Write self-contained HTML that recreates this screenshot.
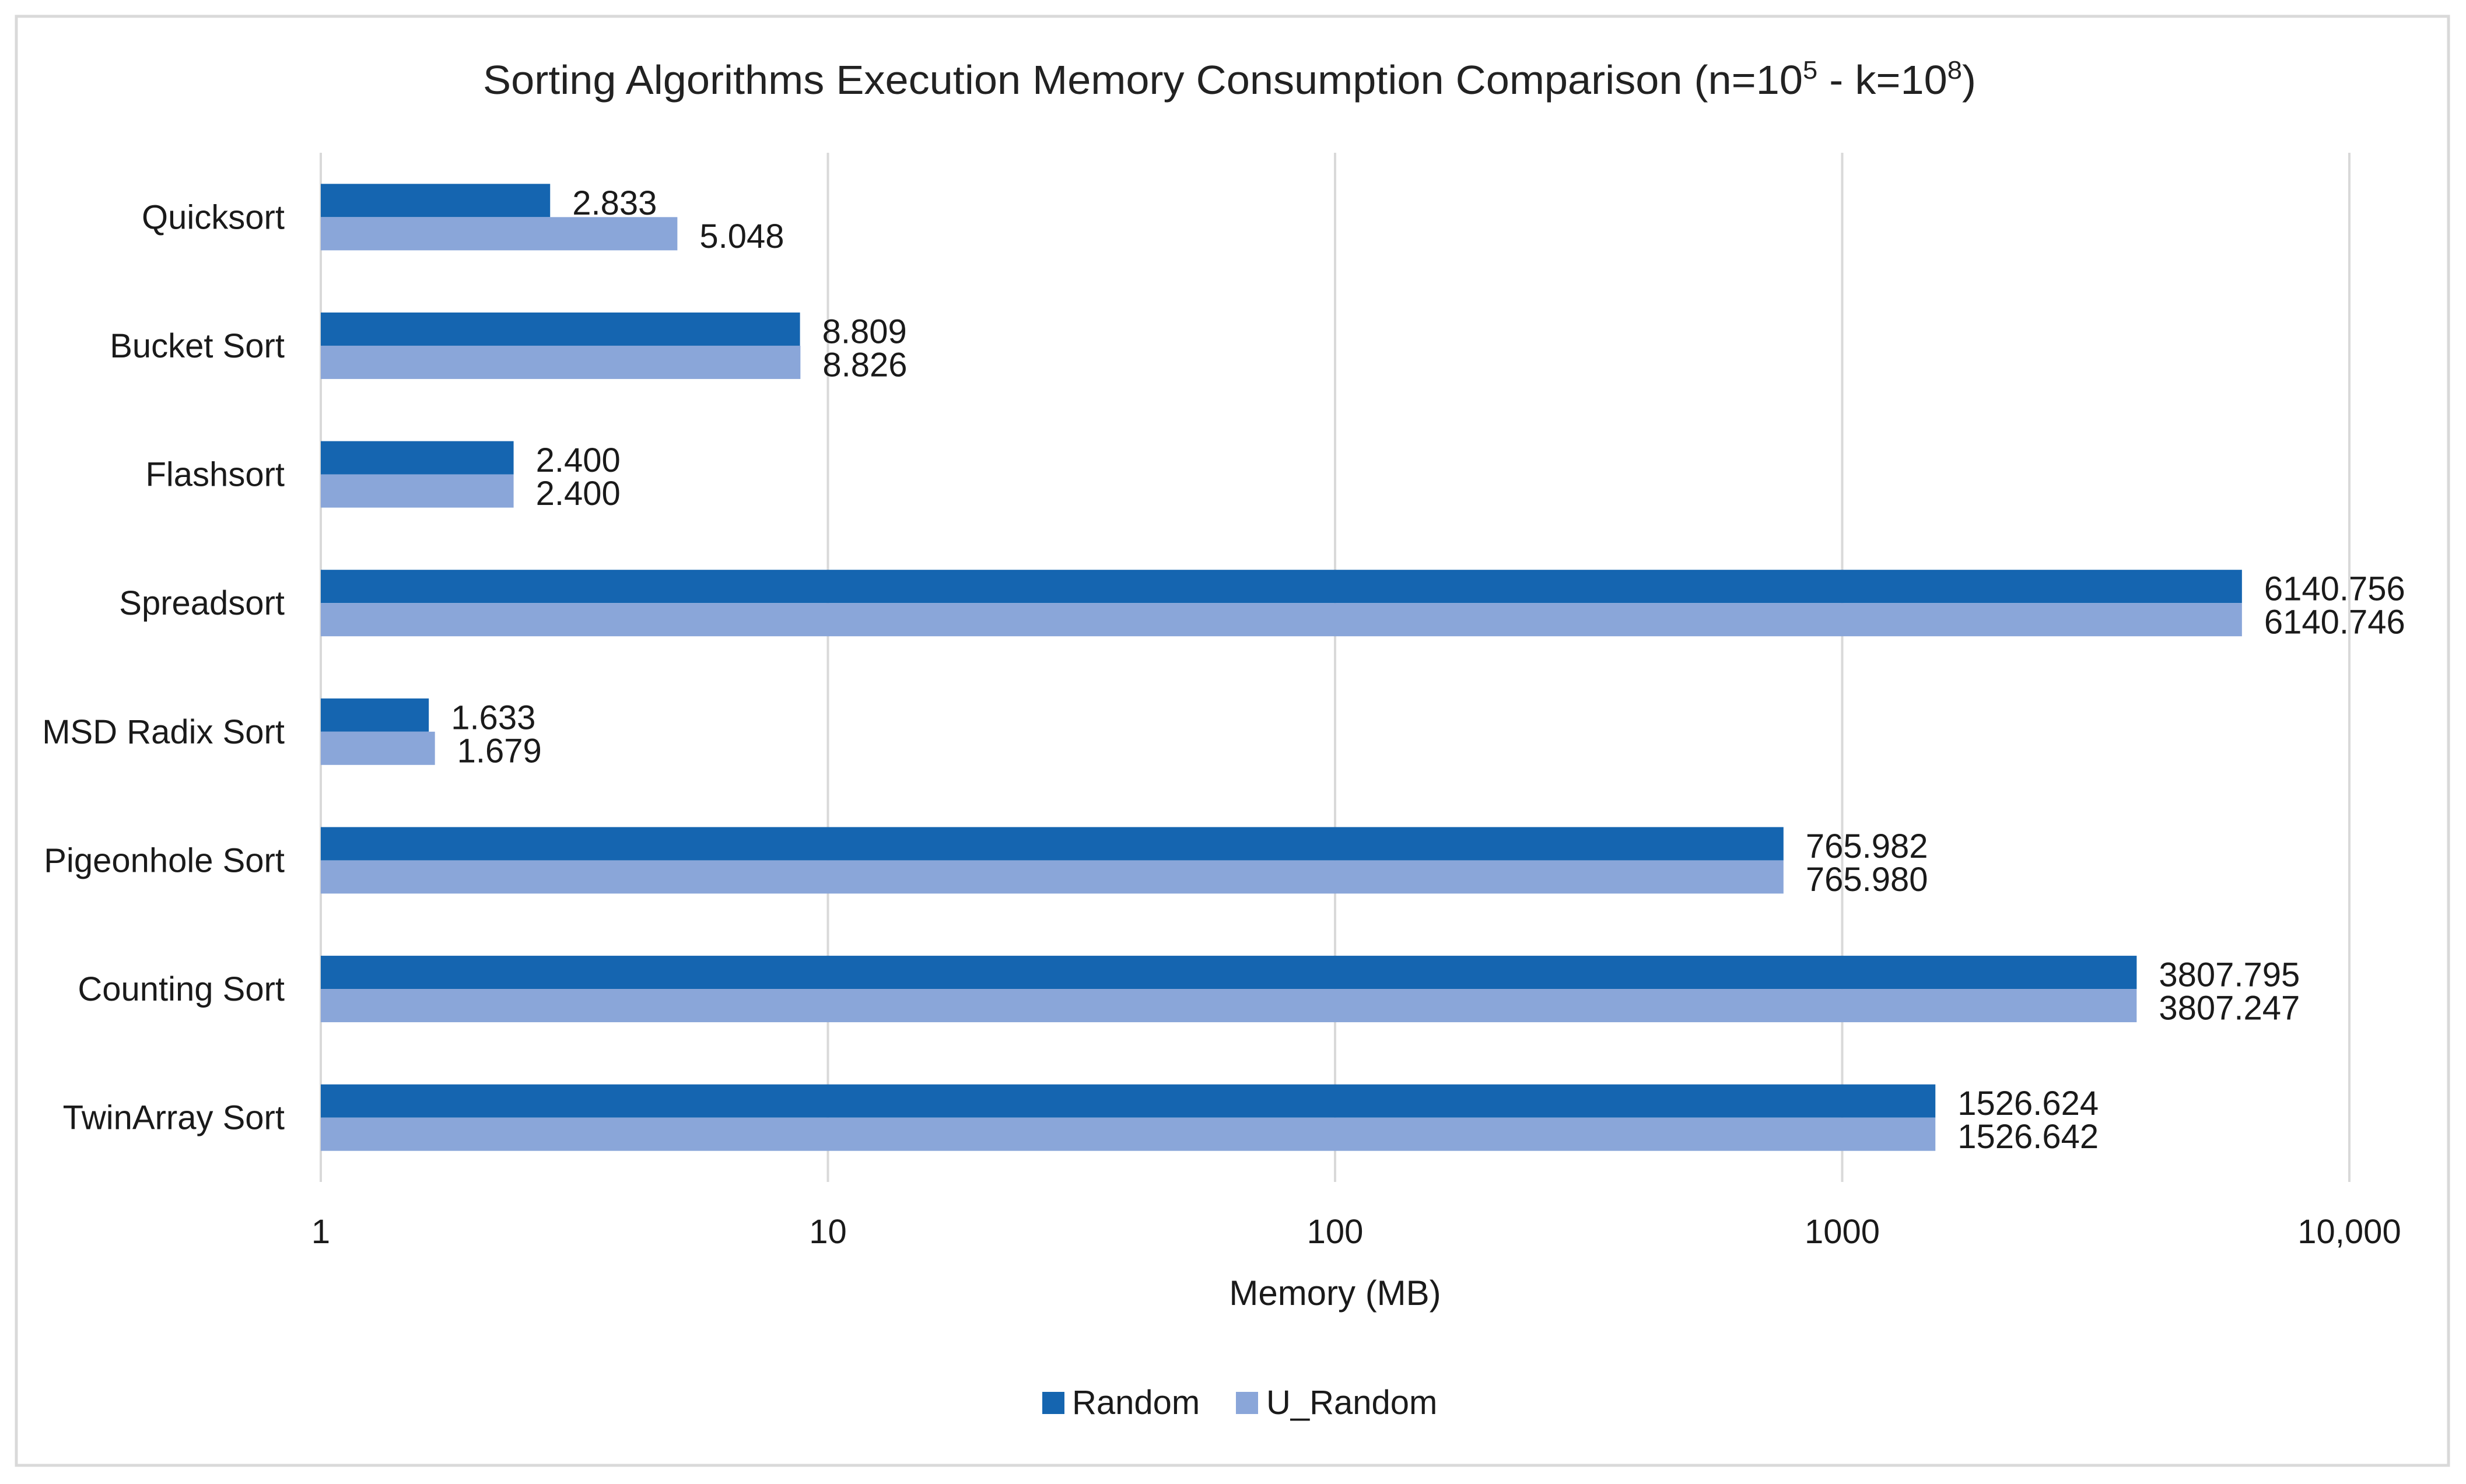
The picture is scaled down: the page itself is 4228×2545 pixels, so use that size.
<!DOCTYPE html>
<html><head><meta charset="utf-8"><style>
html,body{margin:0;padding:0;background:#fff}
svg{display:block;font-family:"Liberation Sans",sans-serif}
</style></head><body>
<svg id="chart" width="4228" height="2545" viewBox="0 0 4228 2545">
<rect x="28" y="28" width="4170" height="2485" fill="#fff" stroke="#d9d9d9" stroke-width="5"/>
<text x="2108" y="161" font-size="70" text-anchor="middle" fill="#222" textLength="2560" lengthAdjust="spacingAndGlyphs">Sorting Algorithms Execution Memory Consumption Comparison (n=10<tspan font-size="44" dy="-26">5</tspan><tspan dy="26"> - k=10</tspan><tspan font-size="44" dy="-26">8</tspan><tspan dy="26">)</tspan></text>
<g id="grid"></g><g id="bars"></g><g id="labels"></g>
<text x="2289" y="2238" font-size="60" text-anchor="middle" fill="#1a1a1a">Memory (MB)</text>
<g>
<rect x="1787" y="2387" width="38" height="38" fill="#1565b0"/>
<text x="1838" y="2425" font-size="58" fill="#1a1a1a">Random</text>
<rect x="2119" y="2387" width="38" height="38" fill="#8aa6d9"/>
<text x="2171" y="2425" font-size="58" fill="#1a1a1a">U_Random</text>
</g>
</svg>
<script>
const categories=["Quicksort","Bucket Sort","Flashsort","Spreadsort","MSD Radix Sort","Pigeonhole Sort","Counting Sort","TwinArray Sort"];
const randomVals=[2.833,8.809,2.400,6140.756,1.633,765.982,3807.795,1526.624];
const uRandomVals=[5.048,8.826,2.400,6140.746,1.679,765.980,3807.247,1526.642];
const tickVals=[1,10,100,1000,10000];
const tickLabels=["1","10","100","1000","10,000"];
const NS="http://www.w3.org/2000/svg";
const X0=550,DEC=869.5,TOP=262,BOT=2027;
const band=(BOT-TOP)/categories.length;
const BH=57;
function xs(v){return X0+Math.log10(v)*DEC;}
function mk(tag,attrs,parent,txt){const e=document.createElementNS(NS,tag);for(const k in attrs)e.setAttribute(k,attrs[k]);if(txt!==undefined)e.textContent=txt;parent.appendChild(e);return e;}
const grid=document.getElementById('grid'),bars=document.getElementById('bars'),labels=document.getElementById('labels');
tickVals.forEach((t,i)=>{
  const l=mk('line',{x1:xs(t),x2:xs(t),y1:TOP,y2:BOT,stroke:'#d9d9d9','stroke-width':4},grid);
  
  
  const tx=mk('text',{x:xs(t),y:2132,'font-size':58,'text-anchor':'middle',fill:'#1a1a1a'},labels,tickLabels[i]);
  
  
});
categories.forEach((c,i)=>{
  const cy=TOP+band*(i+0.5);
  const ct=mk('text',{x:488,y:cy+20,'font-size':58,'text-anchor':'end',fill:'#1a1a1a'},labels,c);
  
  
  const y1=cy-BH,y2=cy;
  const b1=mk('rect',{x:X0,y:y1,width:xs(randomVals[i])-X0,height:BH,fill:'#1565b0'},bars);
  
  
  const b2=mk('rect',{x:X0,y:y2,width:xs(uRandomVals[i])-X0,height:BH,fill:'#8aa6d9'},bars);
  
  
  const v1=mk('text',{x:xs(randomVals[i])+38,y:y1+BH/2+24,'font-size':58,fill:'#1a1a1a'},labels,randomVals[i].toFixed(3));
  
  
  const v2=mk('text',{x:xs(uRandomVals[i])+38,y:y2+BH/2+24,'font-size':58,fill:'#1a1a1a'},labels,uRandomVals[i].toFixed(3));
  
  
});
</script>
</body></html>
